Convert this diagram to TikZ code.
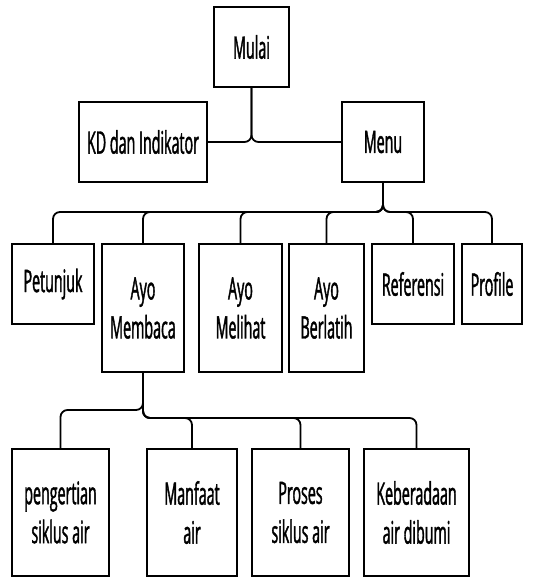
\documentclass[tikz,border=0pt]{standalone}
\usepackage{fontspec}
\setmainfont{Open Sans}[FakeStretch=0.46,FakeBold=1.2]

\begin{document}
\begin{tikzpicture}[x=1pt,y=-1pt,
  kotak/.style={draw,line width=1.6pt,inner sep=0pt,align=center,font=\fontsize{31}{39}\selectfont},
  garis/.style={line width=1.8pt,rounded corners=7pt}]
\path[use as bounding box] (0,0) rectangle (534,578);
% baris atas
\node[kotak,minimum width=75,minimum height=80] (mulai) at (251.5,47) {Mulai};
\node[kotak,minimum width=128,minimum height=80] (kd) at (143,142) {KD dan Indikator};
\node[kotak,minimum width=82,minimum height=80] (menu) at (383,142) {Menu};
\draw[garis] (mulai.south) |- (kd.east);
\draw[garis] (mulai.south) |- (menu.west);
% menu
\node[kotak,minimum width=82,minimum height=80] (petunjuk) at (53,284) {Petunjuk};
\node[kotak,minimum width=82,minimum height=128] (membaca) at (143,308) {Ayo\\Membaca};
\node[kotak,minimum width=83,minimum height=128] (melihat) at (240.5,308) {Ayo\\Melihat};
\node[kotak,minimum width=75,minimum height=128] (berlatih) at (326.5,308) {Ayo\\Berlatih};
\node[kotak,minimum width=82,minimum height=80] (referensi) at (413,284) {Referensi};
\node[kotak,minimum width=60,minimum height=80] (profile) at (492,284) {Profile};
\coordinate (menubus) at (0,212);
\foreach \n in {petunjuk,membaca,melihat,berlatih,referensi,profile}
  \draw[garis] (menu.south) |- (menubus -| \n.north) -- (\n.north);
% ayo membaca
\node[kotak,minimum width=97,minimum height=127] (pengertian) at (60.5,512.5) {pengertian\\siklus air};
\node[kotak,minimum width=90,minimum height=127] (manfaat) at (192,512.5) {Manfaat\\air};
\node[kotak,minimum width=97,minimum height=127] (proses) at (300.5,512.5) {Proses\\siklus air};
\node[kotak,minimum width=105,minimum height=127] (keberadaan) at (416.5,512.5) {Keberadaan\\air dibumi};
\coordinate (kiribus) at (0,410);
\coordinate (kananbus) at (0,418);
\draw[garis] (membaca.south) |- (kiribus -| pengertian.north) -- (pengertian.north);
\foreach \n in {manfaat,proses,keberadaan}
  \draw[garis] (membaca.south) |- (kananbus -| \n.north) -- (\n.north);
\end{tikzpicture}
\end{document}
